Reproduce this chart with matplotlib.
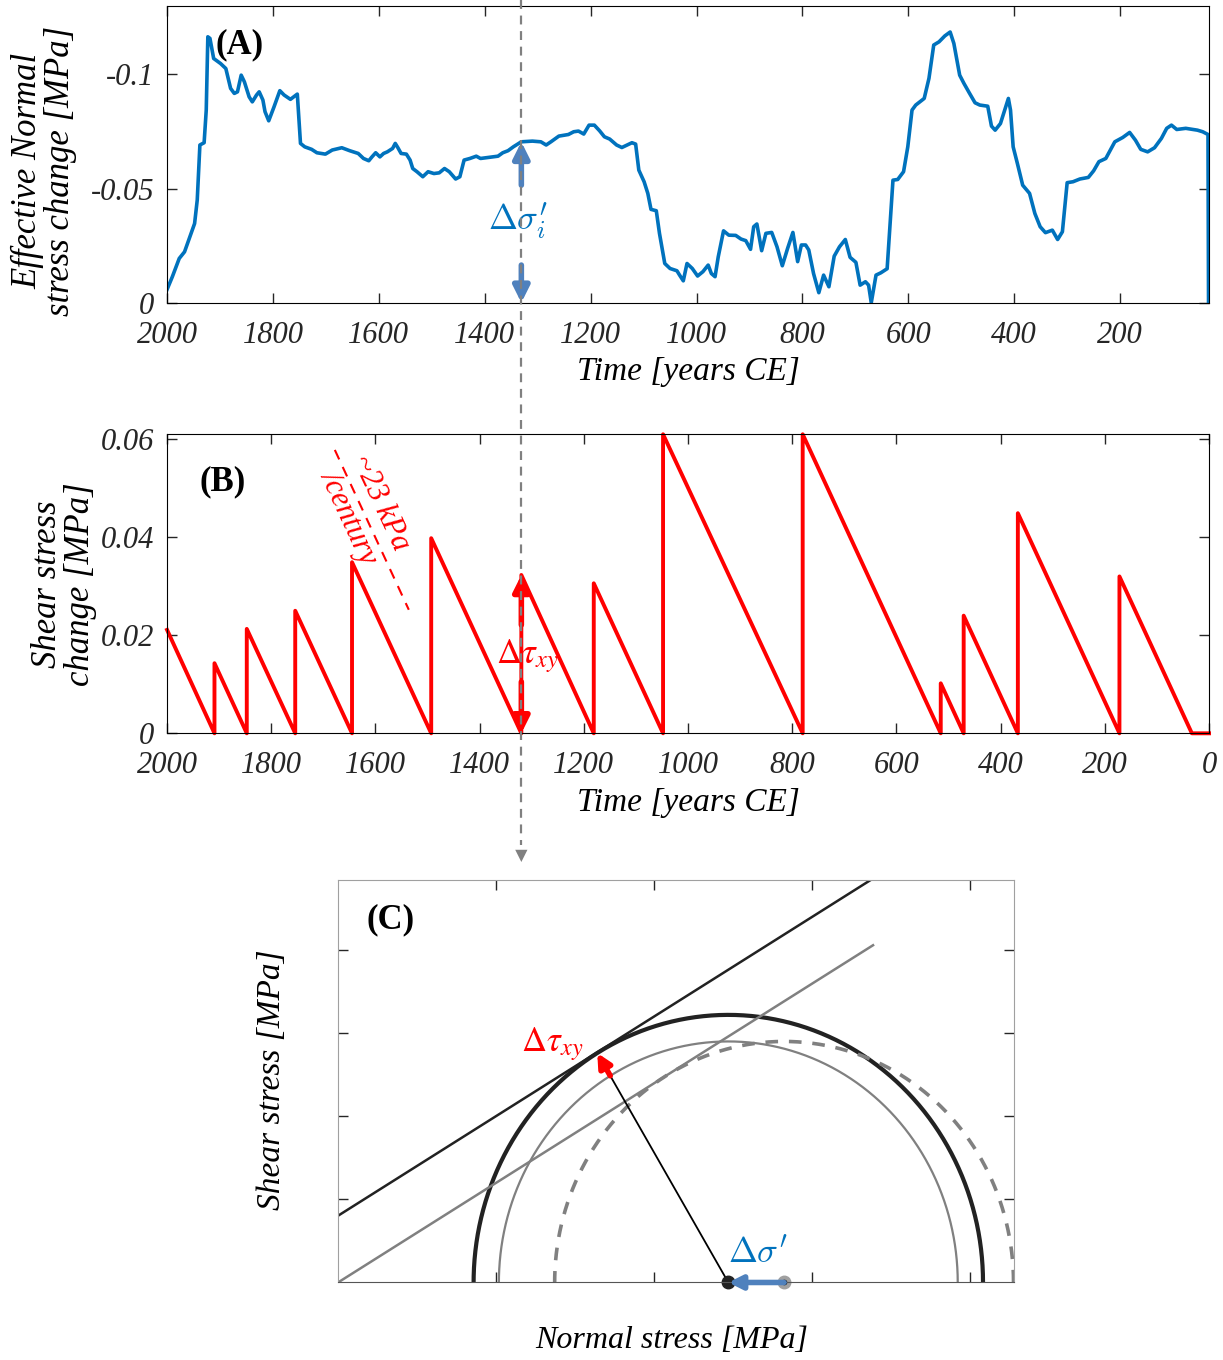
import numpy as np
import matplotlib.pyplot as plt
import matplotlib.transforms as mtransforms
from matplotlib.lines import Line2D
from matplotlib.patches import FancyArrowPatch

plt.rcParams['font.family'] = ['Liberation Serif', 'DejaVu Serif']
plt.rcParams['mathtext.fontset'] = 'stix'

# ---- panel A: effective normal stress change [MPa] vs time [years CE]
years_a = [2000, 1990, 1977, 1967, 1958, 1948, 1943, 1938, 1930, 1926, 1923, 1919,
           1912, 1899, 1889, 1880, 1873, 1867, 1860, 1854, 1845, 1839, 1831, 1826,
           1819, 1815, 1808, 1798, 1787, 1779, 1767, 1754, 1748, 1740, 1727, 1717,
           1701, 1688, 1670, 1655, 1639, 1629, 1619, 1613, 1606, 1598, 1591, 1584,
           1574, 1569, 1564, 1558, 1548, 1541, 1536, 1528, 1517, 1507, 1496, 1486,
           1476, 1467, 1455, 1447, 1439, 1428, 1416, 1408, 1392, 1375, 1366, 1356,
           1346, 1331, 1310, 1294, 1284, 1275, 1260, 1242, 1232, 1223, 1213, 1203,
           1193, 1183, 1174, 1164, 1151, 1141, 1131, 1122, 1115, 1109, 1099, 1092,
           1086, 1076, 1070, 1060, 1050, 1037, 1032, 1025, 1018, 1008, 998, 988, 978,
           972, 965, 959, 949, 939, 926, 916, 907, 898, 892, 886, 877, 869, 858, 848,
           838, 828, 818, 809, 802, 794, 788, 779, 769, 760, 750, 740, 730, 719, 710,
           699, 691, 681, 675, 670, 661, 652, 640, 629, 620, 609, 601, 593, 586, 570,
           561, 552, 542, 531, 521, 514, 503, 495, 485, 474, 465, 450, 443, 436, 426,
           418, 411, 407, 402, 394, 384, 371, 361, 351, 341, 328, 318, 309, 300, 289,
           276, 260, 250, 240, 227, 210, 195, 182, 171, 161, 148, 135, 122, 112, 103,
           93, 76, 54, 44, 34, 33]
sigma_a = [-0.0058, -0.0114, -0.0194, -0.0223, -0.0282, -0.0347, -0.0450, -0.0691,
           -0.0701, -0.0844, -0.1165, -0.1158, -0.1070, -0.1048, -0.1026, -0.0939,
           -0.0917, -0.0924, -0.0997, -0.0968, -0.0902, -0.0880, -0.0910, -0.0924,
           -0.0888, -0.0837, -0.0797, -0.0858, -0.0929, -0.0910, -0.0891, -0.0914,
           -0.0698, -0.0683, -0.0672, -0.0657, -0.0651, -0.0669, -0.0679, -0.0666,
           -0.0654, -0.0632, -0.0622, -0.0639, -0.0657, -0.0639, -0.0654, -0.0661,
           -0.0676, -0.0698, -0.0679, -0.0654, -0.0651, -0.0625, -0.0588, -0.0574,
           -0.0552, -0.0574, -0.0566, -0.0569, -0.0588, -0.0574, -0.0542, -0.0552,
           -0.0625, -0.0632, -0.0642, -0.0632, -0.0637, -0.0642, -0.0657, -0.0666,
           -0.0683, -0.0705, -0.0708, -0.0705, -0.0691, -0.0705, -0.0730, -0.0737,
           -0.0749, -0.0752, -0.0739, -0.0778, -0.0778, -0.0753, -0.0727, -0.0717,
           -0.0691, -0.0680, -0.0691, -0.0701, -0.0695, -0.0581, -0.0530, -0.0479,
           -0.0409, -0.0403, -0.0304, -0.0172, -0.0150, -0.0140, -0.0121, -0.0096,
           -0.0172, -0.0150, -0.0117, -0.0136, -0.0165, -0.0128, -0.0114, -0.0201,
           -0.0315, -0.0296, -0.0295, -0.0279, -0.0272, -0.0234, -0.0333, -0.0345,
           -0.0228, -0.0304, -0.0308, -0.0245, -0.0162, -0.0238, -0.0308, -0.0180,
           -0.0253, -0.0253, -0.0231, -0.0128, -0.0044, -0.0121, -0.0070, -0.0204,
           -0.0245, -0.0277, -0.0199, -0.0177, -0.0077, -0.0092, -0.0077, 0.0,
           -0.0121, -0.0131, -0.0149, -0.0537, -0.0540, -0.0574, -0.0683, -0.0844,
           -0.0866, -0.0895, -0.0983, -0.1129, -0.1143, -0.1169, -0.1186, -0.1136,
           -0.0997, -0.0961, -0.0920, -0.0876, -0.0866, -0.0861, -0.0774, -0.0756,
           -0.0785, -0.0844, -0.0895, -0.0844, -0.0683, -0.0610, -0.0515, -0.0479,
           -0.0391, -0.0333, -0.0307, -0.0318, -0.0277, -0.0311, -0.0526, -0.0530,
           -0.0542, -0.0549, -0.0578, -0.0618, -0.0632, -0.0705, -0.0724, -0.0746,
           -0.0712, -0.0672, -0.0661, -0.0679, -0.0720, -0.0764, -0.0778, -0.0759,
           -0.0764, -0.0756, -0.0749, -0.0737, 0.0]

# ---- panel B: shear stress change, earthquake years and stress at each restart
quake_years = [2000, 1909, 1847, 1754, 1645, 1493, 1320, 1181, 1048, 780, 515, 471, 367, 172]
quake_tau = [0.0211, 0.0143, 0.0213, 0.0250, 0.0349, 0.0398, 0.0323, 0.0306, 0.0610,
             0.0610, 0.0102, 0.0240, 0.0449, 0.0320]
tau_zero_year = 33
slope_line_years = [1678, 1536]
slope_line_tau = [0.0578, 0.0252]
example_year = 1320
example_tau = 0.0323

# ---- panel C: Mohr circles
center_now = 2.47
delta_sigma = 0.353
r_init = 1.452
r_now = 1.612
friction = 0.6
cohesion_shift = 0.402
env_x_end = 3.386

blue = '#0072BD'
arrow_blue = '#4F81BD'
red = '#FF0000'
gray = '#808080'
dark = '#222222'

fig = plt.figure(figsize=(12.23, 13.6), dpi=100)
ax_a = fig.add_axes([0.1366, 0.7774, 0.852, 0.2182])
ax_b = fig.add_axes([0.1366, 0.4608, 0.852, 0.2199])
ax_c = fig.add_axes([0.2764, 0.0570, 0.5527, 0.2960])

tick_kw = dict(direction='in', top=True, right=True, length=7, width=1,
               labelsize=22, colors='#262626')


def italic_ticks(ax):
    for lbl in ax.get_xticklabels() + ax.get_yticklabels():
        lbl.set_fontstyle('italic')


# panel A
ax_a.plot(years_a, sigma_a, color=blue, lw=2.6)
ax_a.set_xlim(2000, 32)
ax_a.set_ylim(0, -0.13)
ax_a.set_xticks(range(2000, 0, -200))
ax_a.set_yticks([0, -0.05, -0.1])
ax_a.set_yticklabels(['0', '-0.05', '-0.1'])
ax_a.tick_params(**tick_kw)
ax_a.tick_params(axis='x', pad=13)
ax_a.tick_params(axis='y', pad=9)
italic_ticks(ax_a)
ax_a.set_xlabel('Time [years CE]', fontsize=24, style='italic', va='center')
ax_a.xaxis.set_label_coords(0.5, -0.234)
ax_a.set_ylabel('Effective Normal\nstress change [MPa]', fontsize=25, style='italic',
                linespacing=1.0, va='center')
ax_a.yaxis.set_label_coords(-0.118, 0.445)
ax_a.text(0.07, 0.869, '(A)', transform=ax_a.transAxes, fontsize=25, fontweight='bold',
          ha='center', va='center')

# panel B
xs_b = [quake_years[0]]
ys_b = [quake_tau[0]]
for yr, tau in zip(quake_years[1:], quake_tau[1:]):
    xs_b += [yr, yr]
    ys_b += [0, tau]
xs_b += [tau_zero_year, 0]
ys_b += [0, 0]
ax_b.plot(xs_b, ys_b, color=red, lw=2.8, clip_on=False)
ax_b.set_xlim(2000, 0)
ax_b.set_ylim(0, 0.061)
ax_b.set_xticks(range(2000, -1, -200))
ax_b.set_yticks([0, 0.02, 0.04, 0.06])
ax_b.set_yticklabels(['0', '0.02', '0.04', '0.06'])
ax_b.tick_params(**tick_kw)
ax_b.tick_params(axis='x', pad=13)
ax_b.tick_params(axis='y', pad=9)
italic_ticks(ax_b)
ax_b.set_xlabel('Time [years CE]', fontsize=24, style='italic', va='center')
ax_b.xaxis.set_label_coords(0.5, -0.233)
ax_b.set_ylabel('Shear stress\nchange [MPa]', fontsize=25, style='italic',
                linespacing=1.0, va='center')
ax_b.yaxis.set_label_coords(-0.099, 0.5)
ax_b.text(0.053, 0.84, '(B)', transform=ax_b.transAxes, fontsize=25, fontweight='bold',
          ha='center', va='center')

ax_b.plot(slope_line_years, slope_line_tau, color=red, lw=1.5, ls=(0, (5, 4)))
ax_b.text(1590, 0.0470, '~23 kPa', color=red, fontsize=22, style='italic', rotation=-65,
          rotation_mode='anchor', ha='center', va='center')
ax_b.text(1652, 0.0440, '/century', color=red, fontsize=22, style='italic', rotation=-65,
          rotation_mode='anchor', ha='center', va='center')

arr_red = dict(arrowstyle='-|>', color=red, lw=4, mutation_scale=24, shrinkA=0, shrinkB=0)
ax_b.annotate('', xy=(example_year, example_tau), xytext=(example_year, 0.0221),
              arrowprops=arr_red)
ax_b.annotate('', xy=(example_year, 0), xytext=(example_year, 0.0105),
              arrowprops=arr_red)
ax_b.text(example_year - 12, 0.0158, r'$\Delta\tau_{xy}$', color=red, fontsize=25,
          ha='center', va='center')

# vertical guide through the example year, from top of figure down to panel C
x_disp = ax_b.transData.transform((example_year, 0))[0]
x_fig = fig.transFigure.inverted().transform((x_disp, 0))[0]
fig.add_artist(Line2D([x_fig, x_fig], [1.0, 1 - 845 / 1360], transform=fig.transFigure,
                      color=gray, lw=1.6, ls=(0, (4, 3)), zorder=5))
fig.add_artist(FancyArrowPatch((x_fig, 1 - 842 / 1360), (x_fig, 1 - 862 / 1360),
                               transform=fig.transFigure, arrowstyle='-|>',
                               mutation_scale=22, color=gray, lw=0, shrinkA=0, shrinkB=0,
                               zorder=5))

# blue arrows in panel A along the guide
blend_a = mtransforms.blended_transform_factory(fig.transFigure, ax_a.transData)
arr_blue = dict(arrowstyle='-|>', color=arrow_blue, lw=4, mutation_scale=24,
                shrinkA=0, shrinkB=0)
ax_a.annotate('', xy=(x_fig, -0.0705), xytext=(x_fig, -0.0515), xycoords=blend_a,
              textcoords=blend_a, arrowprops=arr_blue)
ax_a.annotate('', xy=(x_fig, 0), xytext=(x_fig, -0.0165), xycoords=blend_a,
              textcoords=blend_a, arrowprops=arr_blue)
ax_a.text(x_fig - 0.003, -0.036, r"$\Delta\sigma_i'$", transform=blend_a, color=blue,
          fontsize=25, ha='center', va='center', math_fontfamily='cm')

# panel C
theta = np.linspace(0, np.pi, 400)
ax_c.plot(center_now + r_now * np.cos(theta), r_now * np.sin(theta), color=dark, lw=3)
ax_c.plot(center_now + r_init * np.cos(theta), r_init * np.sin(theta), color=gray, lw=1.6)
ax_c.plot(center_now + delta_sigma + r_init * np.cos(theta), r_init * np.sin(theta),
          color=gray, lw=2.6, ls=(0, (3.5, 3)))
env_x = np.array([0, env_x_end])
ax_c.plot(env_x, friction * env_x + cohesion_shift, color=dark, lw=1.8)
ax_c.plot(env_x, friction * env_x, color=gray, lw=1.8)

normal = np.array([-friction, 1.0]) / np.hypot(friction, 1.0)
p_init = np.array([center_now, 0]) + r_init * normal
p_now = np.array([center_now, 0]) + r_now * normal
ax_c.plot([center_now, p_init[0]], [0, p_init[1]], color='black', lw=1.3)
ax_c.annotate('', xy=p_now, xytext=p_init,
              arrowprops=dict(arrowstyle='-|>', color=red, lw=4, mutation_scale=20,
                              shrinkA=0, shrinkB=0))
ax_c.text(1.358, 1.435, r'$\Delta\tau_{xy}$', color=red, fontsize=25, ha='center',
          va='center')
ax_c.annotate('', xy=(center_now, 0), xytext=(center_now + delta_sigma, 0),
              arrowprops=dict(arrowstyle='-|>', color=arrow_blue, lw=4, mutation_scale=20,
                              shrinkA=0, shrinkB=0), annotation_clip=False)
ax_c.plot([center_now + delta_sigma], [0], 'o', color='#A0A0A0', ms=9, clip_on=False)
ax_c.plot([center_now + delta_sigma], [0], 'o', color='black', ms=3, clip_on=False)
ax_c.plot([center_now], [0], 'o', color=dark, ms=9, clip_on=False)
ax_c.text(2.658, 0.17, r"$\Delta\sigma'$", color=blue, fontsize=25, ha='center',
          va='center', math_fontfamily='cm')

ax_c.set_xlim(0, 4.278)
ax_c.set_ylim(0, 2.425)
ax_c.set_xticks([1, 2, 3, 4])
ax_c.set_yticks([0.5, 1, 1.5, 2])
ax_c.tick_params(direction='in', top=True, right=True, length=7, width=1,
                 labelleft=False, labelbottom=False, colors='#262626')
for side in ['left', 'top', 'right']:
    ax_c.spines[side].set_color('#A0A0A0')
ax_c.spines['bottom'].set_color('#555555')
ax_c.set_xlabel('Normal stress [MPa]', fontsize=23, style='italic', va='center')
ax_c.xaxis.set_label_coords(0.494, -0.143)
ax_c.set_ylabel('Shear stress [MPa]', fontsize=24, style='italic', va='center')
ax_c.yaxis.set_label_coords(-0.098, 0.503)
ax_c.text(0.078, 0.90, '(C)', transform=ax_c.transAxes, fontsize=25, fontweight='bold',
          ha='center', va='center')

plt.savefig('out.png', dpi=100)
